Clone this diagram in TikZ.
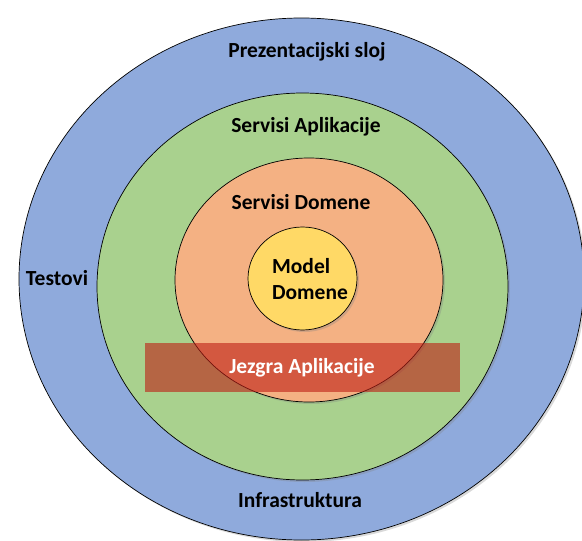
\documentclass[tikz,border=0pt]{standalone}
\usepackage{fontspec}
\setmainfont{Carlito}
\usetikzlibrary{shadows}
\definecolor{slojplava}{HTML}{8FAADC}
\definecolor{slojzelena}{HTML}{A9D18E}
\definecolor{slojnarandz}{HTML}{F4B183}
\definecolor{slojzuta}{HTML}{FFD966}
\definecolor{jezgracrvena}{RGB}{190,30,20}

\begin{document}
\begin{tikzpicture}[x=1pt,y=-1pt,
  sloj/.style={draw=black, line width=0.7pt,
    drop shadow={shadow xshift=2pt, shadow yshift=-2pt, opacity=0.3}},
  natpis/.style={font=\fontsize{21.5}{26}\selectfont\bfseries, inner sep=0pt}]

\useasboundingbox (0,0) rectangle (582,541);

% slojevi
\draw[sloj, fill=slojplava] (301.5,279) ellipse [x radius=282.5pt, y radius=261pt];
\draw[sloj, fill=slojzelena] (302.5,286.5) ellipse [x radius=205.5pt, y radius=193.5pt];
\draw[sloj, fill=slojnarandz] (309,280) ellipse [x radius=134pt, y radius=122pt];
\draw[sloj, fill=slojzuta] (302.5,278.5) ellipse [x radius=54.5pt, y radius=51.5pt];

% jezgra
\fill[jezgracrvena, opacity=0.6] (145,343) rectangle (460,392);

% natpisi
\node[natpis] (prez) at (307,52) {Prezentacijski sloj};
\node[natpis] (servapp) at (306,127) {Servisi Aplikacije};
\node[natpis] (servdom) at (301,202) {Servisi Domene};
\node[natpis, align=left] (model) at (310,279) {Model\\Domene};
\node[natpis] (testovi) at (57,278) {Testovi};
\node[natpis, text=white] (jezgra) at (302,368) {Jezgra Aplikacije};
\node[natpis] (infra) at (300,500) {Infrastruktura};

\end{tikzpicture}
\end{document}
